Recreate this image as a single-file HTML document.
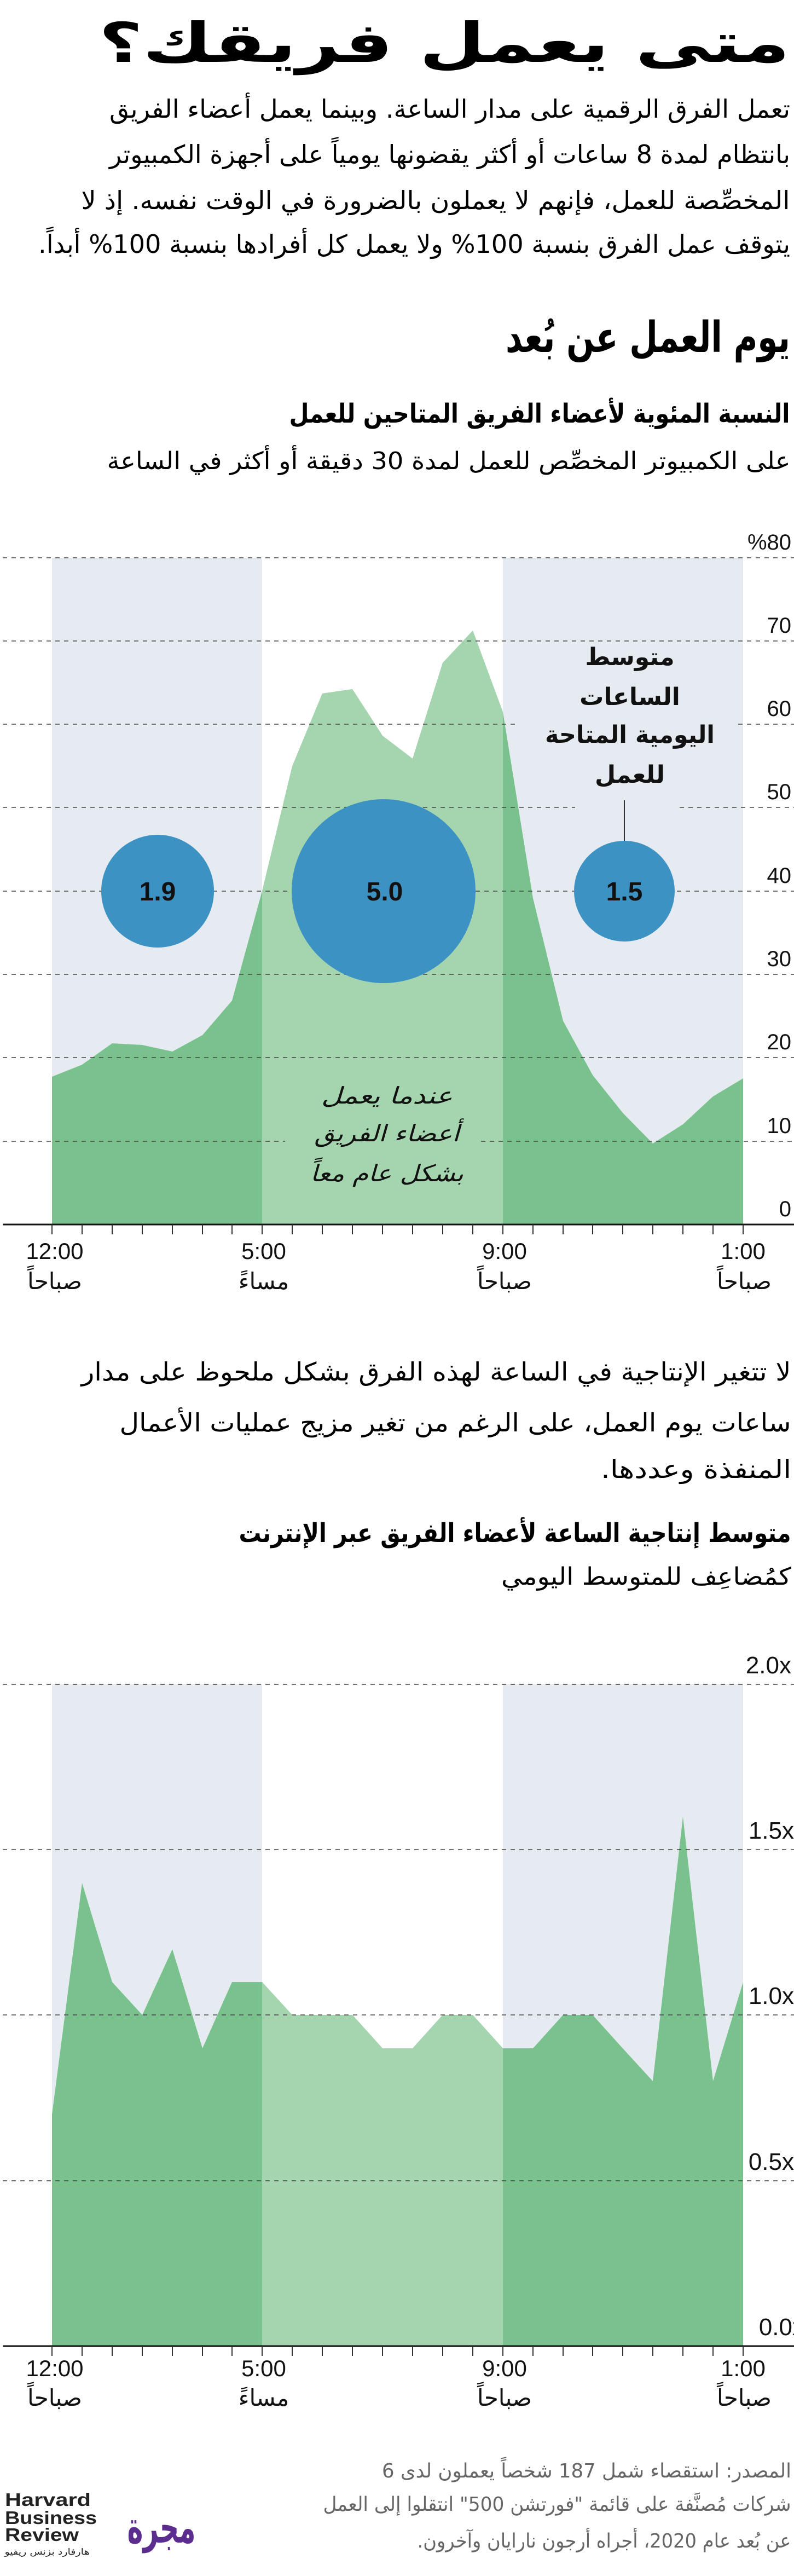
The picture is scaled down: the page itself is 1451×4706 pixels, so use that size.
<!DOCTYPE html>
<html><head><meta charset="utf-8">
<style>
html,body{margin:0;padding:0;background:#fff;}
svg{display:block;}
.ar{font-family:"DejaVu Sans","Liberation Sans",sans-serif;}
.num{font-family:"Liberation Sans","DejaVu Sans",sans-serif;}
</style></head>
<body>
<svg width="1451" height="4706" viewBox="0 0 1451 4706" xmlns="http://www.w3.org/2000/svg">
<!-- Header -->
<g class="ar" fill="#000" text-anchor="middle" direction="rtl">
<text x="812" y="113" font-size="100" font-weight="bold" textLength="1263" lengthAdjust="spacingAndGlyphs">متى يعمل فريقك؟</text>
<text x="822" y="215" font-size="46" textLength="1244" lengthAdjust="spacingAndGlyphs">تعمل الفرق الرقمية على مدار الساعة. وبينما يعمل أعضاء الفريق</text>
<text x="822" y="298" font-size="46" textLength="1244" lengthAdjust="spacingAndGlyphs">بانتظام لمدة 8 ساعات أو أكثر يقضونها يومياً على أجهزة الكمبيوتر</text>
<text x="796" y="382" font-size="46" textLength="1295" lengthAdjust="spacingAndGlyphs">المخصِّصة للعمل، فإنهم لا يعملون بالضرورة في الوقت نفسه. إذ لا</text>
<text x="757" y="462" font-size="46" textLength="1374" lengthAdjust="spacingAndGlyphs">يتوقف عمل الفرق بنسبة 100% ولا يعمل كل أفرادها بنسبة 100% أبداً.</text>
<text x="1184" y="643" font-size="78" font-weight="bold" textLength="520" lengthAdjust="spacingAndGlyphs">يوم العمل عن بُعد</text>
<text x="986" y="772" font-size="48" font-weight="bold" textLength="915" lengthAdjust="spacingAndGlyphs">النسبة المئوية لأعضاء الفريق المتاحين للعمل</text>
<text x="820" y="857" font-size="44" textLength="1249" lengthAdjust="spacingAndGlyphs">على الكمبيوتر المخصِّص للعمل لمدة 30 دقيقة أو أكثر في الساعة</text>
</g>

<!-- Chart 1 -->
<g>
<rect x="95" y="1019" width="384" height="1218" fill="#e6ebf2"/>
<rect x="919" y="1019" width="439" height="1218" fill="#e6ebf2"/>
<defs>
<clipPath id="mid1"><rect x="479" y="900" width="440" height="1400"/></clipPath>
<clipPath id="mid2"><rect x="479" y="3000" width="440" height="1400"/></clipPath>
</defs>
<polygon fill="#79c28e" points="95,1967 150,1945 205,1906 260,1909 315,1921 370,1891 424,1828 479,1628 534,1400 589,1267 644,1259 699,1344 754,1386 809,1211 864,1152 919,1301 974,1641 1029,1865 1083,1964 1138,2033 1193,2089 1248,2054 1303,2003 1358,1970 1358,2237 95,2237"/>
<polygon clip-path="url(#mid1)" fill="#a4d5ae" points="95,1967 150,1945 205,1906 260,1909 315,1921 370,1891 424,1828 479,1628 534,1400 589,1267 644,1259 699,1344 754,1386 809,1211 864,1152 919,1301 974,1641 1029,1865 1083,1964 1138,2033 1193,2089 1248,2054 1303,2003 1358,1970 1358,2237 95,2237"/>
<g stroke="#444" stroke-width="1.5" stroke-dasharray="8 8">
<line x1="5" y1="1019" x2="1451" y2="1019"/>
<line x1="5" y1="1171" x2="1451" y2="1171"/>
<line x1="5" y1="1323" x2="949" y2="1323"/><line x1="1349" y1="1323" x2="1451" y2="1323"/>
<line x1="5" y1="1475" x2="1051" y2="1475"/><line x1="1242" y1="1475" x2="1451" y2="1475"/>
<line x1="5" y1="1628" x2="1451" y2="1628"/>
<line x1="5" y1="1780" x2="1451" y2="1780"/>
<line x1="5" y1="1932" x2="1451" y2="1932"/>
<line x1="5" y1="2085" x2="521" y2="2085"/><line x1="879" y1="2085" x2="1451" y2="2085"/>
</g>
<line x1="1141" y1="1462" x2="1141" y2="1540" stroke="#333" stroke-width="2"/>
<circle cx="288" cy="1628" r="103" fill="#3d92c4"/>
<circle cx="701" cy="1628" r="168" fill="#3d92c4"/>
<circle cx="1141" cy="1628" r="92" fill="#3d92c4"/>
<g class="num" font-size="48" font-weight="bold" text-anchor="middle" fill="#111">
<text x="288" y="1645">1.9</text><text x="703" y="1645">5.0</text><text x="1141" y="1645">1.5</text>
</g>
<g class="ar" font-size="44" font-weight="bold" text-anchor="middle" fill="#111" direction="rtl">
<text x="1151" y="1215">متوسط</text>
<text x="1151" y="1288">الساعات</text>
<text x="1151" y="1357" textLength="310" lengthAdjust="spacingAndGlyphs">اليومية المتاحة</text>
<text x="1151" y="1430">للعمل</text>
</g>
<g class="ar" font-size="42" font-style="italic" text-anchor="middle" fill="#111" direction="rtl">
<text x="707" y="2016" textLength="240" lengthAdjust="spacingAndGlyphs">عندما يعمل</text>
<text x="707" y="2085" textLength="265" lengthAdjust="spacingAndGlyphs">أعضاء الفريق</text>
<text x="707" y="2158" textLength="280" lengthAdjust="spacingAndGlyphs">بشكل عام معاً</text>
</g>
<g class="num" font-size="40" text-anchor="end" fill="#111">
<text x="1446" y="1004">%80</text><text x="1446" y="1156">70</text><text x="1446" y="1308">60</text>
<text x="1446" y="1460">50</text><text x="1446" y="1613">40</text><text x="1446" y="1765">30</text>
<text x="1446" y="1917">20</text><text x="1446" y="2070">10</text><text x="1446" y="2222">0</text>
</g>
<line x1="5" y1="2237" x2="1451" y2="2237" stroke="#111" stroke-width="3"/>
<g stroke="#333" stroke-width="2">
<line x1="95" y1="2237" x2="95" y2="2255"/><line x1="150" y1="2237" x2="150" y2="2255"/><line x1="205" y1="2237" x2="205" y2="2255"/><line x1="260" y1="2237" x2="260" y2="2255"/><line x1="315" y1="2237" x2="315" y2="2255"/><line x1="370" y1="2237" x2="370" y2="2255"/><line x1="424" y1="2237" x2="424" y2="2255"/><line x1="479" y1="2237" x2="479" y2="2255"/><line x1="534" y1="2237" x2="534" y2="2255"/><line x1="589" y1="2237" x2="589" y2="2255"/><line x1="644" y1="2237" x2="644" y2="2255"/><line x1="699" y1="2237" x2="699" y2="2255"/><line x1="754" y1="2237" x2="754" y2="2255"/><line x1="809" y1="2237" x2="809" y2="2255"/><line x1="864" y1="2237" x2="864" y2="2255"/><line x1="919" y1="2237" x2="919" y2="2255"/><line x1="974" y1="2237" x2="974" y2="2255"/><line x1="1029" y1="2237" x2="1029" y2="2255"/><line x1="1083" y1="2237" x2="1083" y2="2255"/><line x1="1138" y1="2237" x2="1138" y2="2255"/><line x1="1193" y1="2237" x2="1193" y2="2255"/><line x1="1248" y1="2237" x2="1248" y2="2255"/><line x1="1303" y1="2237" x2="1303" y2="2255"/><line x1="1358" y1="2237" x2="1358" y2="2255"/>
</g>
<g class="num" font-size="42" text-anchor="middle" fill="#111">
<text x="100" y="2300">12:00</text><text x="482" y="2300">5:00</text><text x="922" y="2300">9:00</text><text x="1358" y="2300">1:00</text>
</g>
<g class="ar" font-size="42" text-anchor="middle" fill="#111" direction="rtl">
<text x="100" y="2355">صباحاً</text><text x="482" y="2355">مساءً</text><text x="922" y="2355">صباحاً</text><text x="1360" y="2355">صباحاً</text>
</g>
</g>

<!-- middle paragraph -->
<g class="ar" fill="#000" text-anchor="middle" direction="rtl">
<text x="797" y="2522" font-size="46" textLength="1297" lengthAdjust="spacingAndGlyphs">لا تتغير الإنتاجية في الساعة لهذه الفرق بشكل ملحوظ على مدار</text>
<text x="832" y="2615" font-size="46" textLength="1227" lengthAdjust="spacingAndGlyphs">ساعات يوم العمل، على الرغم من تغير مزيج عمليات الأعمال</text>
<text x="1272" y="2700" font-size="46" textLength="348" lengthAdjust="spacingAndGlyphs">المنفذة وعددها.</text>
<text x="941" y="2817" font-size="48" font-weight="bold" textLength="1009" lengthAdjust="spacingAndGlyphs">متوسط إنتاجية الساعة لأعضاء الفريق عبر الإنترنت</text>
<text x="1181" y="2895" font-size="44" textLength="530" lengthAdjust="spacingAndGlyphs">كمُضاعِف للمتوسط اليومي</text>
</g>

<!-- Chart 2 -->
<g>
<rect x="95" y="3077" width="384" height="1209" fill="#e6ebf2"/>
<rect x="919" y="3077" width="439" height="1209" fill="#e6ebf2"/>
<polygon fill="#79c28e" points="95,3863 150,3440 205,3621 260,3681 315,3561 370,3742 424,3621 479,3621 534,3681 589,3681 644,3681 699,3742 754,3742 809,3681 864,3681 919,3742 974,3742 1029,3681 1083,3681 1138,3742 1193,3802 1248,3319 1303,3802 1358,3621 1358,4286 95,4286"/>
<polygon clip-path="url(#mid2)" fill="#a4d5ae" points="95,3863 150,3440 205,3621 260,3681 315,3561 370,3742 424,3621 479,3621 534,3681 589,3681 644,3681 699,3742 754,3742 809,3681 864,3681 919,3742 974,3742 1029,3681 1083,3681 1138,3742 1193,3802 1248,3319 1303,3802 1358,3621 1358,4286 95,4286"/>
<g stroke="#444" stroke-width="1.5" stroke-dasharray="8 8">
<line x1="5" y1="3077" x2="1451" y2="3077"/>
<line x1="5" y1="3379" x2="1451" y2="3379"/>
<line x1="5" y1="3681" x2="1451" y2="3681"/>
<line x1="5" y1="3984" x2="1451" y2="3984"/>
</g>
<g class="num" font-size="44" text-anchor="end" fill="#111">
<text x="1446" y="3057">2.0x</text><text x="1451" y="3359">1.5x</text><text x="1451" y="3661">1.0x</text><text x="1451" y="3964">0.5x</text><text x="1470" y="4266">0.0x</text>
</g>
<line x1="5" y1="4286" x2="1451" y2="4286" stroke="#111" stroke-width="3"/>
<g stroke="#333" stroke-width="2">
<line x1="95" y1="4286" x2="95" y2="4304"/><line x1="150" y1="4286" x2="150" y2="4304"/><line x1="205" y1="4286" x2="205" y2="4304"/><line x1="260" y1="4286" x2="260" y2="4304"/><line x1="315" y1="4286" x2="315" y2="4304"/><line x1="370" y1="4286" x2="370" y2="4304"/><line x1="424" y1="4286" x2="424" y2="4304"/><line x1="479" y1="4286" x2="479" y2="4304"/><line x1="534" y1="4286" x2="534" y2="4304"/><line x1="589" y1="4286" x2="589" y2="4304"/><line x1="644" y1="4286" x2="644" y2="4304"/><line x1="699" y1="4286" x2="699" y2="4304"/><line x1="754" y1="4286" x2="754" y2="4304"/><line x1="809" y1="4286" x2="809" y2="4304"/><line x1="864" y1="4286" x2="864" y2="4304"/><line x1="919" y1="4286" x2="919" y2="4304"/><line x1="974" y1="4286" x2="974" y2="4304"/><line x1="1029" y1="4286" x2="1029" y2="4304"/><line x1="1083" y1="4286" x2="1083" y2="4304"/><line x1="1138" y1="4286" x2="1138" y2="4304"/><line x1="1193" y1="4286" x2="1193" y2="4304"/><line x1="1248" y1="4286" x2="1248" y2="4304"/><line x1="1303" y1="4286" x2="1303" y2="4304"/><line x1="1358" y1="4286" x2="1358" y2="4304"/>
</g>
<g class="num" font-size="42" text-anchor="middle" fill="#111">
<text x="100" y="4341">12:00</text><text x="482" y="4341">5:00</text><text x="922" y="4341">9:00</text><text x="1358" y="4341">1:00</text>
</g>
<g class="ar" font-size="42" text-anchor="middle" fill="#111" direction="rtl">
<text x="100" y="4395">صباحاً</text><text x="482" y="4395">مساءً</text><text x="922" y="4395">صباحاً</text><text x="1360" y="4395">صباحاً</text>
</g>
</g>

<!-- Footer -->
<g class="ar" fill="#666" font-size="36" text-anchor="middle" direction="rtl">
<text x="1072" y="4526" textLength="748" lengthAdjust="spacingAndGlyphs">المصدر: استقصاء شمل 187 شخصاً يعملون لدى 6</text>
<text x="1018" y="4587" textLength="855" lengthAdjust="spacingAndGlyphs">شركات مُصنَّفة على قائمة "فورتشن 500" انتقلوا إلى العمل</text>
<text x="1104" y="4654" textLength="683" lengthAdjust="spacingAndGlyphs">عن بُعد عام 2020، أجراه أرجون نارايان وآخرون.</text>
</g>
<g fill="#222" font-family="Liberation Sans, sans-serif" font-weight="bold" font-size="33">
<text x="9" y="4578" textLength="157" lengthAdjust="spacingAndGlyphs">Harvard</text>
<text x="9" y="4611" textLength="168" lengthAdjust="spacingAndGlyphs">Business</text>
<text x="9" y="4642" textLength="135" lengthAdjust="spacingAndGlyphs">Review</text>
</g>
<text class="ar" x="86" y="4667" font-size="16" fill="#222" text-anchor="middle" direction="rtl" textLength="155" lengthAdjust="spacingAndGlyphs">هارفارد بزنس ريفيو</text>
<text class="ar" x="295" y="4645" font-size="80" font-weight="bold" fill="#5b2d8e" text-anchor="middle" direction="rtl" textLength="125" lengthAdjust="spacingAndGlyphs">مجرة</text>
</svg>
</body></html>
